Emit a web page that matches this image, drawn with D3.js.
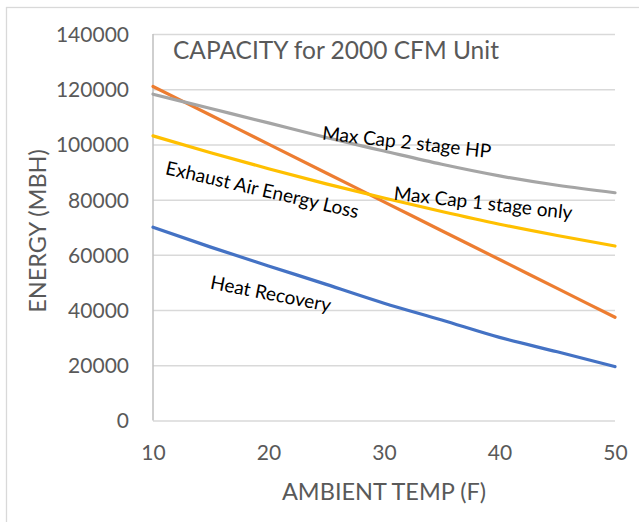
<!DOCTYPE html>
<html>
<head>
<meta charset="utf-8">
<script src="https://cdn.jsdelivr.net/npm/d3@7"></script>
<style>
body { margin: 0; background: #fff; }
text { font-family: Lato, "Open Sans", sans-serif; }
.grid line { stroke: #d9d9d9; stroke-width: 1.5; }
.tick text { fill: #595959; font-size: 21px; }
.series-label { fill: #000; font-size: 19px; }
</style>
</head>
<body>
<svg width="639" height="522"></svg>
<script>
// data
var temps = [10, 15, 20, 25, 30, 35, 40, 45, 50];
var heat_recovery = [70000, 62800, 56000, 49300, 42500, 36400, 30100, 24900, 19500];
var exhaust_loss = [121000, 110550, 100100, 89650, 79200, 68750, 58300, 47850, 37400];
var max_cap_2stage = [118200, 113000, 107800, 102500, 97600, 92800, 88600, 85200, 82500];
var max_cap_1stage = [103100, 97000, 91200, 85700, 80600, 75700, 71100, 67000, 63200];
var x_ticks = [10, 20, 30, 40, 50];
var y_ticks = [0, 20000, 40000, 60000, 80000, 100000, 120000, 140000];

var svg = d3.select("svg"),
    plot = {left: 153, right: 615, top: 34, bottom: 420.5};

var x = d3.scaleLinear().domain([10, 50]).range([plot.left, plot.right]),
    y = d3.scaleLinear().domain([0, 140000]).range([plot.bottom, plot.top]);

var series = [
    {name: "Heat Recovery", values: heat_recovery, color: "#4472C4"},
    {name: "Exhaust Air Energy Loss", values: exhaust_loss, color: "#ED7D31"},
    {name: "Max Cap 2 stage HP", values: max_cap_2stage, color: "#A5A5A5"},
    {name: "Max Cap 1 stage only", values: max_cap_1stage, color: "#FFC000"}
];

// where each label sits (data units) and its tilt
var label_layout = {
    "Heat Recovery": {t: 14.9, v: 47800, angle: 11},
    "Exhaust Air Energy Loss": {t: 11.0, v: 89300, angle: 13},
    "Max Cap 2 stage HP": {t: 24.6, v: 101800, angle: 6.3},
    "Max Cap 1 stage only": {t: 30.8, v: 80000, angle: 6.3}
};

// chart frame
svg.append("rect")
    .attr("x", 6.5).attr("y", 7.5)
    .attr("width", 700).attr("height", 520)
    .attr("fill", "#fff")
    .attr("stroke", "#d9d9d9")
    .attr("stroke-width", 1.3);

// y gridlines + labels
var y_axis = svg.append("g")
    .attr("class", "grid")
    .attr("transform", "translate(" + plot.left + ",0)")
    .call(d3.axisLeft(y).tickValues(y_ticks).tickSize(-(plot.right - plot.left)).tickPadding(24).tickFormat(d3.format("d")));
y_axis.select(".domain").remove();
y_axis.selectAll(".tick text").attr("dy", "0.35em");

// left axis line
svg.append("line")
    .attr("x1", plot.left).attr("x2", plot.left)
    .attr("y1", plot.top).attr("y2", plot.bottom)
    .attr("stroke", "#bfbfbf")
    .attr("stroke-width", 1.5);

// x labels
var x_axis = svg.append("g")
    .attr("transform", "translate(0," + plot.bottom + ")")
    .call(d3.axisBottom(x).tickValues(x_ticks).tickSize(0).tickPadding(24.5));
x_axis.select(".domain").remove();

// lines
var line = d3.line()
    .x(function(d, i) { return x(temps[i]); })
    .y(function(d) { return y(d); })
    .curve(d3.curveMonotoneX);

series.forEach(function(s) {
    svg.append("path")
        .datum(s.values)
        .attr("d", line)
        .attr("fill", "none")
        .attr("stroke", s.color)
        .attr("stroke-width", 3.2)
        .attr("stroke-linecap", "round");
});

series.forEach(function(s) {
    var l = label_layout[s.name];
    svg.append("text")
        .attr("class", "series-label")
        .attr("transform", "translate(" + x(l.t) + "," + y(l.v) + ") rotate(" + l.angle + ")")
        .text(s.name);
});

// titles
svg.append("text")
    .attr("x", 173).attr("y", 59)
    .attr("fill", "#595959")
    .style("font-size", "24.5px")
    .text("CAPACITY for 2000 CFM Unit");

svg.append("text")
    .attr("x", 384).attr("y", 500)
    .attr("text-anchor", "middle")
    .attr("fill", "#595959")
    .style("font-size", "23.5px")
    .text("AMBIENT TEMP (F)");

svg.append("text")
    .attr("transform", "translate(46,231) rotate(-90)")
    .attr("text-anchor", "middle")
    .attr("fill", "#595959")
    .style("font-size", "23.5px")
    .text("ENERGY (MBH)");
</script>
</body>
</html>
